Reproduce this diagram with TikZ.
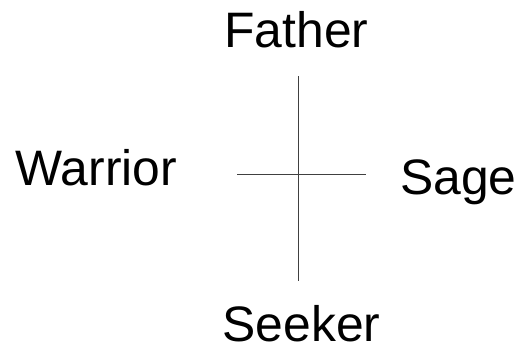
\documentclass[tikz,border=0pt]{standalone}
\usepackage{fontspec}
\setmainfont{Liberation Sans}

\begin{document}
\begin{tikzpicture}[x=1bp, y=-1bp]
  \tikzset{
    pole/.style={font=\fontsize{50}{60}\selectfont, text=black, inner sep=0pt, anchor=base},
    axis/.style={black!75, line width=1bp}
  }
  \useasboundingbox (0,0) rectangle (520,348);

  % labels
  \node[pole] (father)  at (296.5,47)  {Father};
  \node[pole] (warrior) at (96.5,185)  {Warrior};
  \node[pole] (sage)    at (458.5,194) {Sage};
  \node[pole] (seeker)  at (301.5,341) {Seeker};

  % cross
  \coordinate (top)    at (298.5,76);
  \coordinate (bottom) at (298.5,281);
  \coordinate (left)   at (237,174);
  \coordinate (right)  at (366,174);
  \draw[axis] (top) -- (bottom);
  \draw[axis] (left) -- (right);
\end{tikzpicture}
\end{document}
